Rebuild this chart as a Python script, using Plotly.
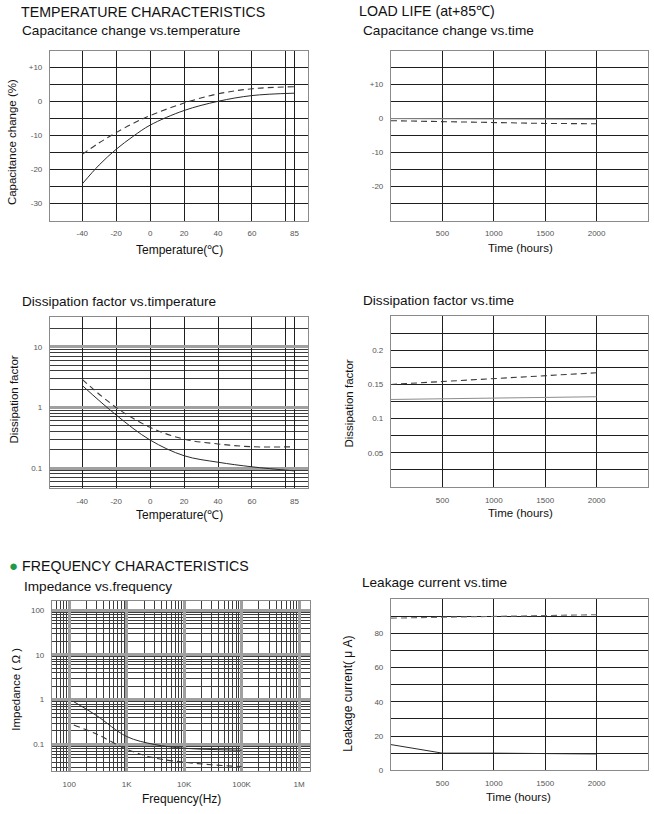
import plotly.graph_objects as go
import math

W, H = 654, 814

# ---------------- data ----------------
temp = [-40, -30, -20, -10, 0, 20, 40, 60, 85]
cap_temp_solid = [-24.2, -18.6, -14.0, -10.2, -6.9, -2.6, 0.1, 1.8, 2.5]
cap_temp_dash = [-15.5, -12.1, -9.1, -6.4, -4.1, -0.4, 2.3, 3.8, 4.4]

df_temp = [-40, -20, 0, 20, 40, 60, 85]
df_temp_solid = [2.3, 0.75, 0.29, 0.16, 0.125, 0.105, 0.09]
df_temp_dash = [2.9, 1.0, 0.47, 0.30, 0.25, 0.225, 0.225]

hours = [0, 500, 1000, 1500, 2000]
cap_time_solid = [0.0, 0.0, -0.1, -0.1, -0.2]
cap_time_dash = [-0.6, -0.9, -1.2, -1.4, -1.5]
df_time_solid = [0.128, 0.129, 0.130, 0.131, 0.132]
df_time_dash = [0.150, 0.154, 0.158, 0.162, 0.167]
lc_time_solid = [15, 10, 10, 9.8, 9.5]
lc_time_dash = [89, 89.5, 90, 90.5, 91]

freq = [120, 300, 1000, 3000, 10000, 30000, 100000]
imp_solid = [0.9, 0.44, 0.15, 0.10, 0.082, 0.077, 0.074]
imp_dash = [0.27, 0.17, 0.078, 0.05, 0.040, 0.035, 0.032]

temp_grid = [-40, -20, 0, 20, 40, 60, 80, 85]
temp_labels = ["-40", "-20", "0", "20", "40", "60", "", "85"]
hour_grid = [500, 1000, 1500, 2000]
hour_labels = ["500", "1000", "1500", "2000"]
cap_grid = [-30, -25, -20, -15, -10, -5, 0, 5, 10]
cap_labels = ["-30", "", "-20", "", "-10", "", "0", "", "+10"]
cap_time_grid = [-25, -20, -15, -10, -5, 0, 5, 10, 15]
cap_time_labels = ["", "-20", "", "-10", "", "0", "", "+10", ""]
df_time_grid = [0.025, 0.05, 0.075, 0.1, 0.125, 0.15, 0.175, 0.2, 0.225]
df_time_labels = ["", "0.05", "", "0.1", "", "0.15", "", "0.2", ""]
lc_grid = [0, 10, 20, 30, 40, 50, 60, 70, 80, 90]
lc_labels = ["0", "", "20", "", "40", "", "60", "", "80", ""]
df_log_ticks = [0.1, 1, 10]
df_log_labels = ["0.1", "1", "10"]
freq_ticks = [100, 1000, 10000, 100000, 1000000]
freq_labels = ["100", "1K", "10K", "100K", "1M"]
imp_ticks = [0.1, 1, 10, 100]
imp_labels = ["0.1", "1", "10", "100"]

FONT = "Liberation Sans, Arial, sans-serif"
GRID = "#1e1e1e"
BORDER = "#8a8a8a"

# panel boxes in pixels: (left, right, top, bottom)
boxes = {
    1: (50, 308, 51, 222),
    2: (391, 648, 51, 222),
    3: (50, 308, 319, 491),
    4: (391, 648, 318, 490),
    5: (52, 310, 605, 776),
    6: (391, 648, 603, 775),
}

def dom(b):
    l, r, t, bt = b
    return [l / W, r / W], [1 - bt / H, 1 - t / H]

fig = go.Figure()

def add_pair(i, x, ys, yd, solid_color="#2a2a2a", dash_color="#3a3a3a", spline=True):
    xa = "x" if i == 1 else f"x{i}"
    ya = "y" if i == 1 else f"y{i}"
    shape = "spline" if spline else "linear"
    fig.add_trace(go.Scatter(x=x, y=ys, mode="lines", xaxis=xa, yaxis=ya,
                             line=dict(color=solid_color, width=1, shape=shape),
                             showlegend=False, hoverinfo="skip"))
    fig.add_trace(go.Scatter(x=x, y=yd, mode="lines", xaxis=xa, yaxis=ya,
                             line=dict(color=dash_color, width=1.1, dash="6px,4px", shape=shape),
                             showlegend=False, hoverinfo="skip"))

add_pair(1, temp, cap_temp_solid, cap_temp_dash)
add_pair(2, hours, cap_time_solid, cap_time_dash, solid_color="#9a9a9a", spline=False)
add_pair(3, df_temp, df_temp_solid, df_temp_dash)
add_pair(4, hours, df_time_solid, df_time_dash, solid_color="#8c8c8c", spline=False)
add_pair(5, freq, imp_solid, imp_dash)
add_pair(6, hours, lc_time_solid, lc_time_dash, dash_color="#6a6a6a", spline=False)

tickfont = dict(family=FONT, size=8, color="#555555")

def lin_axis(dom_, rng, vals, texts, is_x):
    return dict(domain=dom_, range=rng, tickmode="array", tickvals=vals, ticktext=texts,
                showgrid=True, gridcolor=GRID, gridwidth=1.3, zeroline=False,
                showline=True, mirror=True, linecolor=BORDER, linewidth=1.2,
                ticks="outside", ticklen=5 if is_x else 5, tickcolor="rgba(0,0,0,0)",
                tickfont=tickfont, fixedrange=True)

def log_axis(dom_, rng, vals, texts, is_x):
    return dict(domain=dom_, type="log", range=rng, tickmode="array", tickvals=vals, ticktext=texts,
                showgrid=True, gridcolor="#a0a0a0", gridwidth=2.5, zeroline=False,
                minor=dict(dtick="D1", showgrid=True, gridcolor="#3c3c3c", gridwidth=1, ticks=""),
                showline=True, mirror=True, linecolor=BORDER, linewidth=1.2,
                ticks="outside", ticklen=5 if is_x else 5, tickcolor="rgba(0,0,0,0)",
                tickfont=tickfont, fixedrange=True)

lay = {}
d = {i: dom(boxes[i]) for i in boxes}

lay["xaxis"] = lin_axis(d[1][0], [-59, 93], temp_grid, temp_labels, True)
lay["yaxis"] = lin_axis(d[1][1], [-35, 15], cap_grid, cap_labels, False)
lay["xaxis2"] = lin_axis(d[2][0], [0, 2500], hour_grid, hour_labels, True)
lay["yaxis2"] = lin_axis(d[2][1], [-30, 20], cap_time_grid, cap_time_labels, False)
lay["xaxis3"] = lin_axis(d[3][0], [-59, 93], temp_grid, temp_labels, True)
lay["yaxis3"] = log_axis(d[3][1], [math.log10(0.047), math.log10(31)], df_log_ticks, df_log_labels, False)
lay["xaxis4"] = lin_axis(d[4][0], [0, 2500], hour_grid, hour_labels, True)
lay["yaxis4"] = lin_axis(d[4][1], [0, 0.25], df_time_grid, df_time_labels, False)
lay["xaxis5"] = log_axis(d[5][0], [1.70, 6.19], freq_ticks, freq_labels, True)
lay["yaxis5"] = log_axis(d[5][1], [-1.6, 2.2], imp_ticks, imp_labels, False)
lay["xaxis6"] = lin_axis(d[6][0], [0, 2500], hour_grid, hour_labels, True)
lay["yaxis6"] = lin_axis(d[6][1], [0, 100], lc_grid, lc_labels, False)

for i in range(1, 7):
    xk = "xaxis" if i == 1 else f"xaxis{i}"
    yk = "yaxis" if i == 1 else f"yaxis{i}"
    lay[xk]["anchor"] = "y" if i == 1 else f"y{i}"
    lay[yk]["anchor"] = "x" if i == 1 else f"x{i}"

annotations = []

def text(x, y, s, size, angle=0, anchor="left", color="#111111"):
    annotations.append(dict(x=x / W, y=1 - y / H, xref="paper", yref="paper", text=s,
                            showarrow=False, xanchor=anchor, yanchor="middle", textangle=angle,
                            font=dict(family=FONT, size=size, color=color)))

# section titles
text(19, 12, "TEMPERATURE CHARACTERISTICS", 14.2)
text(357, 11, "LOAD LIFE (at+85℃)", 14.2)
text(7, 569, "<span style='color:#1f9a48;font-size:15px'>●</span> FREQUENCY CHARACTERISTICS", 14.2)
# subtitles
text(20, 31, "Capacitance change vs.temperature", 13.6)
text(361, 31, "Capacitance change vs.time", 13.6)
text(20, 303, "Dissipation factor vs.timperature", 13.6)
text(361, 302, "Dissipation factor vs.time", 13.6)
text(22, 590, "Impedance vs.frequency", 13.6)
text(360, 586, "Leakage current vs.time", 13.6)
# x axis titles
text(179, 252, "Temperature(℃)", 12, anchor="center")
text(520, 250, "Time (hours)", 11.5, anchor="center")
text(179, 518, "Temperature(℃)", 12, anchor="center")
text(520, 516, "Time (hours)", 11.5, anchor="center")
text(181, 804, "Frequency(Hz)", 12, anchor="center")
text(518, 802, "Time (hours)", 11.5, anchor="center")
# y axis titles
text(12, 143, "Capacitance change (%)", 11.5, angle=-90, anchor="center")
text(14, 402, "Dissipation factor", 11.5, angle=-90, anchor="center")
text(349, 406, "Dissipation factor", 11.5, angle=-90, anchor="center")
text(16, 694, "Impedance ( Ω )", 11.5, angle=-90, anchor="center")
text(348, 698, "Leakage current( μ A)", 12, angle=-90, anchor="center")

fig.update_layout(width=W, height=H, margin=dict(l=0, r=0, t=0, b=0),
                  paper_bgcolor="white", plot_bgcolor="white",
                  annotations=annotations, showlegend=False, **lay)

fig.write_html("out.html", config={"displayModeBar": False})
